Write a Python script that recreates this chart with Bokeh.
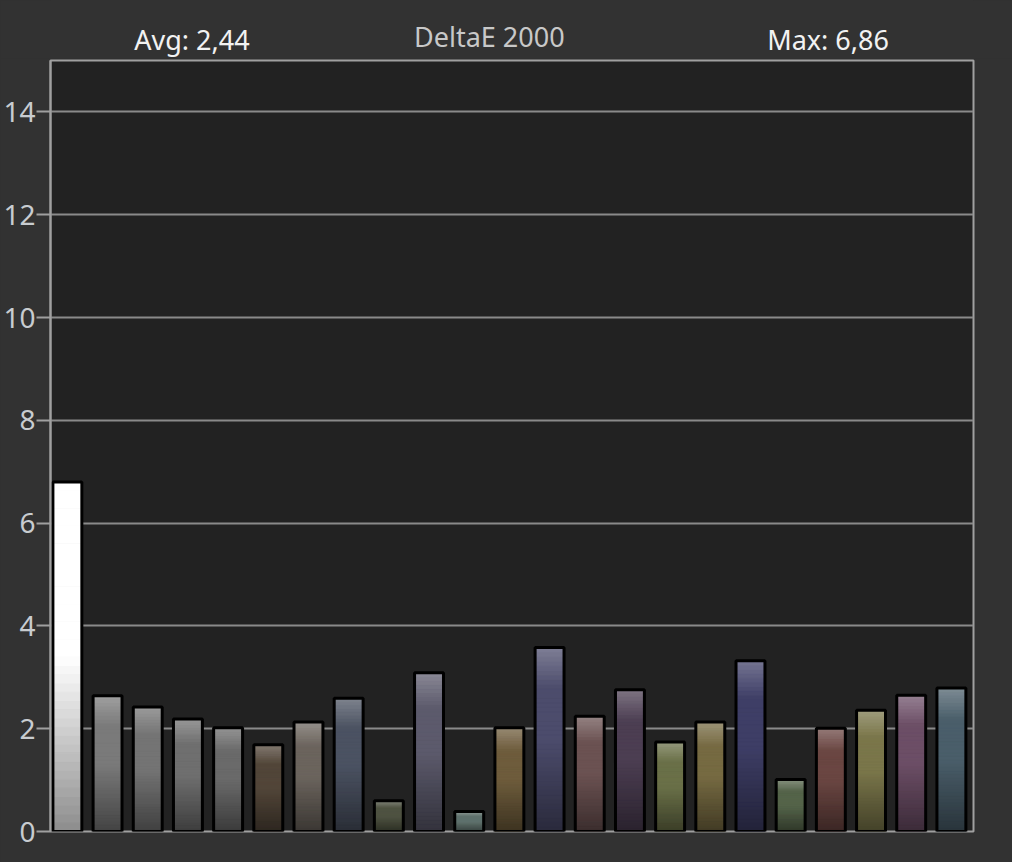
from bokeh.plotting import figure
from bokeh.layouts import column
from bokeh.models import ColumnDataSource, Range1d, FixedTicker, Label
from bokeh.embed import file_html
from bokeh.resources import INLINE

# ---- data ----
patch_index = list(range(23))
delta_e = [6.80, 2.64, 2.42, 2.19, 2.02, 1.69, 2.13, 2.59, 0.60, 3.09, 0.39, 2.02,
           3.58, 2.24, 2.76, 1.74, 2.13, 3.32, 1.01, 2.01, 2.36, 2.65, 2.79]
patch_colors = ["#ffffff", "#7a7a7a", "#747474", "#6f6f6f", "#6a6a6a", "#524639",
                "#6b645d", "#4b5262", "#4f5342", "#5c5a6c", "#5f716c", "#6e5c3c",
                "#4c4c6c", "#6b5252", "#4c3e52", "#6a7048", "#766a42", "#3e3e66",
                "#55644a", "#6a4642", "#7a764a", "#6c4e66", "#4a5e6a"]
y_ticks = [0, 2, 4, 6, 8, 10, 12, 14]
title_text = "DeltaE 2000"
avg_text = "Avg: 2,44"
max_text = "Max: 6,86"


def to_rgb(h):
    h = h.lstrip("#")
    return [int(h[i:i + 2], 16) for i in (0, 2, 4)]


def to_hex(c):
    return "#%02x%02x%02x" % tuple(max(0, min(255, int(round(v)))) for v in c)


def mix(a, b, t):
    return [a[i] + (b[i] - a[i]) * t for i in range(3)]


N = 40
xs, bottoms, tops, cols = [], [], [], []
for i, v, c in zip(patch_index, delta_e, patch_colors):
    base = to_rgb(c)
    light = mix(base, [255, 255, 255], 0.28)
    dark = mix(base, [0, 0, 0], 0.45)
    for k in range(N):
        t = 1 - (k + 0.5) / N  # 0 at top, 1 at bottom
        if t < 0.22:
            col = mix(light, base, t / 0.22)
        elif t < 0.5:
            col = base
        else:
            col = mix(base, dark, (t - 0.5) / 0.5)
        xs.append(i)
        bottoms.append(v * k / N)
        tops.append(v * (k + 1) / N)
        cols.append(to_hex(col))

slices = ColumnDataSource(dict(x=xs, bottom=bottoms, top=tops, color=cols))
bars = ColumnDataSource(dict(x=patch_index, top=delta_e))

xr = Range1d(-0.42, 22.55)
BG = "#323232"

# ---- header with the three texts ----
head = figure(width=1012, height=58, output_backend="svg", toolbar_location=None,
              x_range=xr, y_range=Range1d(0, 58),
              min_border_left=49, min_border_right=39, min_border_top=0,
              min_border_bottom=0)
head.background_fill_color = BG
head.border_fill_color = BG
head.outline_line_color = None
head.axis.visible = False
head.grid.visible = False
for txt, x, y, col in [(avg_text, 3.1, 19.5, "#f2f2f2"),
                       (title_text, 10.5, 22.5, "#c8c8c8"),
                       (max_text, 18.93, 19.5, "#f2f2f2")]:
    head.add_layout(Label(x=x, y=y, text=txt, text_align="center",
                          text_baseline="alphabetic", text_color=col,
                          text_font="Noto Sans", text_font_size="27px"))

# ---- main chart ----
p = figure(width=1012, height=804, output_backend="svg", toolbar_location=None,
           x_range=xr, y_range=Range1d(0, 15),
           min_border_left=49, min_border_right=39, min_border_top=2,
           min_border_bottom=31)
p.background_fill_color = "#222222"
p.border_fill_color = BG
p.outline_line_color = "#a0a0a0"
p.outline_line_width = 2

p.vbar(x="x", bottom="bottom", top="top", width=0.72, source=slices,
       fill_color="color", line_color="color", line_width=1)
p.vbar(x="x", bottom=0, top="top", width=0.72, source=bars,
       fill_color=None, line_color="#000000", line_width=3)

p.xaxis.visible = False
p.xgrid.visible = False
p.ygrid.ticker = FixedTicker(ticks=y_ticks)
p.ygrid.grid_line_color = "#8a8a8a"
p.ygrid.grid_line_width = 2
p.ygrid.level = "underlay"

ya = p.yaxis[0]
ya.ticker = FixedTicker(ticks=y_ticks)
ya.axis_line_color = "#a0a0a0"
ya.axis_line_width = 2
ya.major_tick_line_color = "#a0a0a0"
ya.major_tick_line_width = 2
ya.major_tick_out = 14
ya.major_tick_in = 0
ya.minor_tick_line_color = None
ya.major_label_standoff = 1
ya.major_label_text_color = "#c8ccd0"
ya.major_label_text_font = "Noto Sans"
ya.major_label_text_font_size = "28px"

layout = column(head, p, spacing=0, styles={"background-color": BG})
open("out.html", "w").write(file_html(layout, INLINE))
